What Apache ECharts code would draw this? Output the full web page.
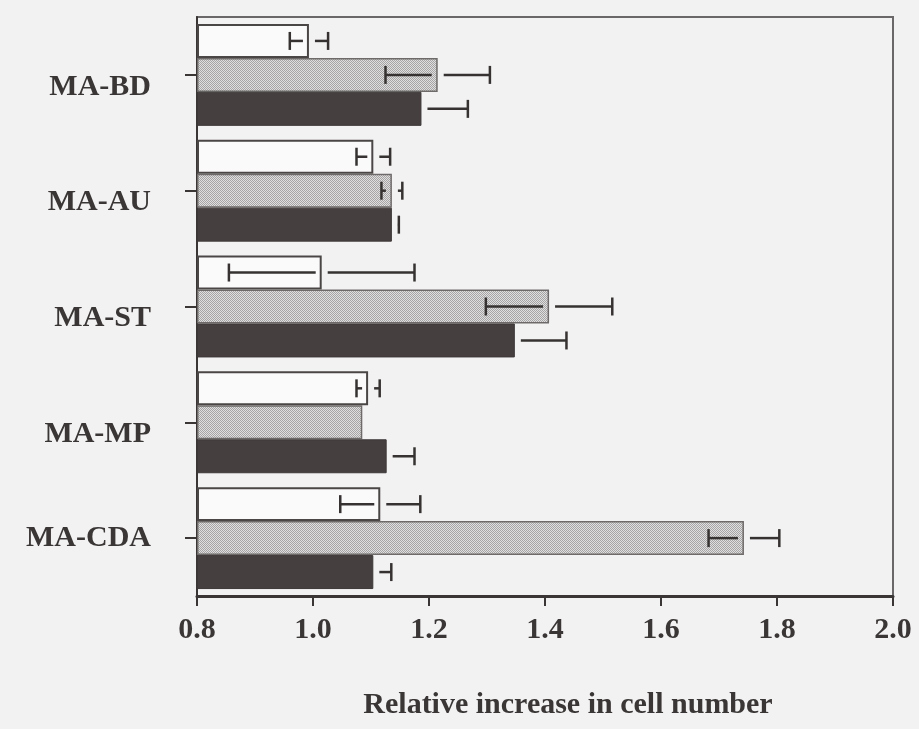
<!DOCTYPE html>
<html>
<head>
<meta charset="utf-8">
<script src="https://cdn.jsdelivr.net/npm/echarts@6/dist/echarts.min.js"></script>
<style>
  html, body { margin: 0; padding: 0; background: #f3f2f2; }
  #main { width: 919px; height: 729px; }
</style>
</head>
<body>
<div id="main"></div>
<script>
// Cell lines, top to bottom
const categories = ['MA-BD', 'MA-AU', 'MA-ST', 'MA-MP', 'MA-CDA'];

// Open bars
const whiteValues = [0.993, 1.104, 1.015, 1.095, 1.116];
const whiteErrors = [0.033, 0.029, 0.160, 0.020, 0.069];

// Hatched bars
const greyValues = [1.215, 1.136, 1.407, 1.085, 1.743];
const greyErrors = [0.090, 0.018, 0.109, 0.000, 0.061];

// Solid dark bars
const darkValues = [1.187, 1.136, 1.348, 1.127, 1.104];
const darkErrors = [0.080, 0.012, 0.089, 0.048, 0.031];

const xTicks = ['0.8', '1.0', '1.2', '1.4', '1.6', '1.8', '2.0'];

const FONT = '"Liberation Serif", "Times New Roman", serif';
const INK = '#3a3636';
const CAT_GAP = 0.12;

// fine cross-hatch fill for the middle bars
function hatchPattern() {
  const c = document.createElement('canvas');
  c.width = 2; c.height = 2;
  const g = c.getContext('2d');
  g.fillStyle = '#e0dfdf';
  g.fillRect(0, 0, 2, 2);
  g.fillStyle = '#a6a4a4';
  g.fillRect(0, 0, 1, 1);
  g.fillRect(1, 1, 1, 1);
  return c;
}

// error-bar items: [value, categoryIndex, error, slot]
function errItems(values, errors, slot) {
  return values.map((v, i) => [v, i, errors[i], slot]);
}

function renderError(params, api) {
  const v = api.value(0), ci = api.value(1), e = api.value(2), slot = api.value(3);
  if (!e) return null;
  const band = api.size([0, 1])[1];
  const bw = band * (1 - CAT_GAP) / 3;
  const p = api.coord([v, ci]);
  const y = p[1] + (slot - 1) * bw;
  const lo = api.coord([v - e, ci])[0];
  const hi = api.coord([v + e, ci])[0];
  const gap = 6, cap = 9;
  const style = { stroke: '#363232', lineWidth: 2.5 };
  const shapes = [];
  // the half inside the solid dark bar does not show against it
  if (slot < 2) {
    if (p[0] - gap > lo) {
      shapes.push({ type: 'line', shape: { x1: lo, y1: y, x2: p[0] - gap, y2: y }, style });
    }
    shapes.push({ type: 'line', shape: { x1: lo, y1: y - cap, x2: lo, y2: y + cap }, style });
  }
  if (hi > p[0] + gap) {
    shapes.push({ type: 'line', shape: { x1: p[0] + gap, y1: y, x2: hi, y2: y }, style });
  }
  shapes.push({ type: 'line', shape: { x1: hi, y1: y - cap, x2: hi, y2: y + cap }, style });
  return { type: 'group', children: shapes };
}

// the last label sits level with its tick, the others a little below
const categoryItems = categories.map((name, i) =>
  i === categories.length - 1
    ? { value: name, textStyle: { verticalAlign: 'middle', lineHeight: 30 } }
    : name
);

const chart = echarts.init(document.getElementById('main'), null, { renderer: 'canvas' });

chart.setOption({
  backgroundColor: '#f3f2f2',
  animation: false,
  grid: {
    left: 197, right: 26, top: 17, bottom: 133,
    show: true, borderColor: '#6a6868', borderWidth: 2,
    backgroundColor: 'transparent'
  },
  xAxis: {
    type: 'value',
    min: 0.8, max: 2.0, interval: 0.2, startValue: 0.8,
    splitLine: { show: false },
    axisLine: { show: true, lineStyle: { color: '#3a3636', width: 3 } },
    axisTick: { show: true, length: 10, lineStyle: { color: '#3a3636', width: 2 } },
    axisLabel: {
      margin: 19,
      color: INK, fontFamily: FONT, fontWeight: 'bold', fontSize: 30,
      formatter: (val) => {
        const idx = Math.round((val - 0.8) / 0.2);
        return xTicks[idx] !== undefined ? xTicks[idx] : '';
      }
    }
  },
  yAxis: {
    type: 'category',
    data: categoryItems,
    inverse: true,
    axisLine: { show: true, lineStyle: { color: '#3a3636', width: 2 } },
    axisTick: { show: true, alignWithLabel: true, length: 12, lineStyle: { color: '#3a3636', width: 2 } },
    axisLabel: {
      margin: 46,
      color: INK, fontFamily: FONT, fontWeight: 'bold', fontSize: 30,
      verticalAlign: 'top',
      lineHeight: 24
    }
  },
  series: [
    {
      type: 'bar', name: 'open', data: whiteValues,
      barGap: '0%', barCategoryGap: (CAT_GAP * 100) + '%',
      itemStyle: { color: '#fbfafa', borderColor: '#4a4646', borderWidth: 2 }
    },
    {
      type: 'bar', name: 'hatched', data: greyValues,
      barGap: '0%', barCategoryGap: (CAT_GAP * 100) + '%',
      itemStyle: { color: { image: hatchPattern(), repeat: 'repeat' }, borderColor: '#6e6a6a', borderWidth: 1.5 }
    },
    {
      type: 'bar', name: 'dark', data: darkValues,
      barGap: '0%', barCategoryGap: (CAT_GAP * 100) + '%',
      itemStyle: { color: '#463f40', borderColor: '#3d3838', borderWidth: 1 }
    },
    {
      type: 'custom', name: 'open-err', renderItem: renderError,
      encode: { x: 0, y: 1 }, data: errItems(whiteValues, whiteErrors, 0), z: 5
    },
    {
      type: 'custom', name: 'hatched-err', renderItem: renderError,
      encode: { x: 0, y: 1 }, data: errItems(greyValues, greyErrors, 1), z: 5
    },
    {
      type: 'custom', name: 'dark-err', renderItem: renderError,
      encode: { x: 0, y: 1 }, data: errItems(darkValues, darkErrors, 2), z: 5
    }
  ],
  graphic: [
    {
      type: 'text',
      x: 568, y: 705,
      style: {
        text: 'Relative increase in cell number',
        fill: INK,
        font: 'bold 30px ' + FONT,
        textAlign: 'center',
        textVerticalAlign: 'middle'
      }
    }
  ]
});
</script>
</body>
</html>
